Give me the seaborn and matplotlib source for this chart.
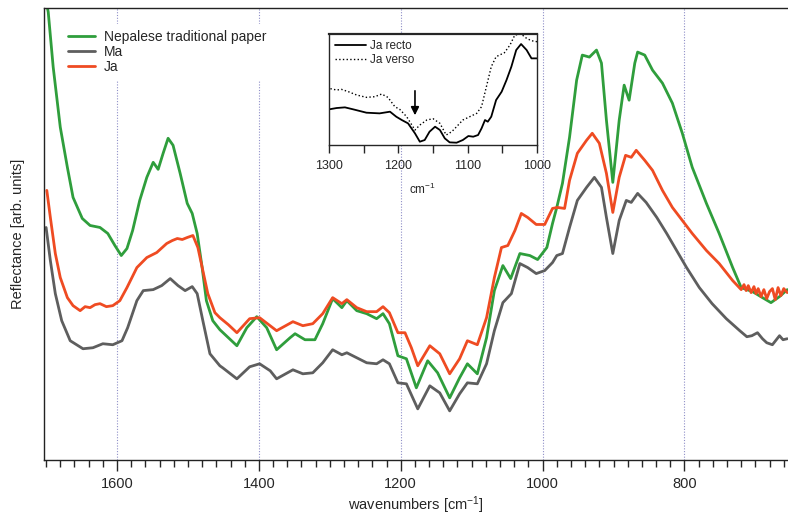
import matplotlib
matplotlib.use("Agg")
import matplotlib.pyplot as plt
from matplotlib.ticker import MultipleLocator
import seaborn as sns

# main spectra (wavenumber [cm-1], reflectance [arb. units])
nep_wn = [1702, 1697, 1690, 1680, 1670, 1662, 1649, 1638, 1624, 1613, 1603, 1594, 1586, 1578,
          1568, 1558, 1549, 1542, 1535, 1528, 1521, 1511, 1501, 1494, 1487, 1480, 1474, 1465,
          1455, 1443, 1431, 1417, 1403, 1389, 1375, 1356, 1349, 1335, 1321, 1310, 1296, 1283,
          1276, 1262, 1248, 1234, 1225, 1216, 1204, 1192, 1178, 1162, 1148, 1131, 1117, 1106,
          1092, 1079, 1068, 1056, 1045, 1032, 1018, 1007, 994, 986, 980, 972, 962, 952, 944,
          934, 924, 917, 910, 901, 892, 885, 878, 870, 866, 856, 845, 831, 817, 803, 789, 769,
          751, 732, 720, 704, 690, 678, 666, 655]
nep_r = [465, 447, 392, 332, 292, 262, 241, 234, 232, 226, 214, 204, 211, 229,
         259, 282, 297, 290, 306, 321, 314, 286, 256, 246, 226, 192, 159, 139,
         130, 122, 114, 132, 143, 132, 110, 122, 126, 120, 120, 136, 161, 152,
         159, 149, 146, 141, 146, 136, 104, 101, 72, 99, 87, 62, 82, 96,
         86, 122, 169, 194, 181, 206, 204, 200, 212, 236, 252, 276, 322, 379, 404,
         402, 409, 396, 339, 277, 339, 374, 359, 396, 407, 404, 389, 376, 356, 326, 292, 256,
         226, 192, 172, 168, 162, 157, 163, 170]

ma_wn = [1700, 1694, 1687, 1678, 1666, 1648, 1634, 1620, 1606, 1593, 1585, 1572, 1563, 1549,
         1537, 1525, 1514, 1504, 1494, 1487, 1479, 1469, 1455, 1451, 1431, 1413, 1399, 1384,
         1375, 1352, 1338, 1324, 1310, 1296, 1283, 1276, 1262, 1248, 1234, 1225, 1216, 1204,
         1192, 1176, 1159, 1145, 1131, 1117, 1106, 1092, 1079, 1068, 1056, 1044, 1032, 1021,
         1009, 997, 986, 980, 972, 962, 951, 938, 927, 917, 910, 901, 892, 882, 875, 866, 854,
         839, 825, 811, 797, 779, 761, 741, 722, 712, 705, 697, 690, 684, 676, 666, 661, 655]
ma_r = [232, 199, 166, 139, 119, 111, 112, 116, 115, 119, 132, 159, 169, 170,
        174, 181, 174, 169, 173, 166, 139, 106, 94, 92, 81, 93, 96, 89,
        81, 90, 86, 87, 97, 110, 105, 107, 102, 97, 96, 100, 96, 77,
        76, 51, 74, 67, 49, 66, 77, 76, 96, 129, 157, 166, 196, 192,
        186, 189, 197, 204, 206, 232, 259, 272, 282, 272, 242, 206, 239, 259, 257, 266, 257,
        242, 226, 209, 192, 172, 156, 141, 129, 123, 124, 127, 121, 117, 115, 124, 120, 121]

ja_wn = [1699, 1694, 1687, 1680, 1670, 1662, 1652, 1645, 1638, 1631, 1624, 1615, 1606, 1596,
         1586, 1572, 1558, 1544, 1530, 1522, 1515, 1508, 1501, 1493, 1486, 1479, 1472, 1462,
         1455, 1443, 1431, 1413, 1399, 1375, 1352, 1338, 1324, 1310, 1296, 1283, 1276, 1262,
         1248, 1234, 1225, 1216, 1204, 1194, 1185, 1176, 1159, 1145, 1131, 1117, 1106, 1092,
         1079, 1068, 1058, 1049, 1039, 1030, 1021, 1009, 997, 986, 979, 969, 962, 951, 938,
         930, 920, 910, 901, 892, 883, 875, 868, 856, 845, 831, 817, 803, 789, 769, 751, 732,
         724, 720, 716, 713, 710, 706, 702, 699, 696, 692, 688, 684, 680, 676, 672, 668, 664,
         660, 655]
ja_r = [269, 242, 206, 182, 162, 154, 149, 153, 152, 155, 156, 153, 154, 159,
        172, 192, 202, 207, 216, 219, 221, 220, 222, 224, 212, 189, 166, 147,
        142, 135, 127, 141, 142, 129, 138, 134, 136, 146, 162, 156, 160, 152,
        148, 148, 153, 147, 127, 127, 112, 94, 114, 106, 86, 101, 119, 115,
        142, 182, 212, 214, 229, 246, 242, 235, 235, 251, 252, 251, 279, 306, 319,
        326, 316, 286, 247, 282, 304, 302, 309, 299, 289, 269, 252, 239, 226, 209, 196, 179,
        173, 170, 175, 169, 174, 167, 173, 166, 171, 163, 170, 161, 168, 171, 160, 172, 164,
        171, 167]

# inset spectra
ins_wn_recto = [1300, 1289, 1277, 1265, 1246, 1227, 1212, 1203, 1195, 1186, 1176, 1169, 1162,
                1155, 1147, 1140, 1133, 1126, 1116, 1107, 1099, 1092, 1085, 1080, 1075, 1071,
                1066, 1059, 1051, 1044, 1037, 1030, 1023, 1015, 1008, 1000]
ins_recto = [107, 111, 113, 107, 97, 95, 100, 85, 75, 65, 35, 10, 15,
             40, 55, 45, 20, 8, 7, 15, 27, 25, 30, 50, 75, 70,
             85, 135, 160, 195, 235, 285, 303, 285, 260, 260]
ins_wn_verso = [1300, 1289, 1282, 1272, 1260, 1246, 1234, 1224, 1215, 1205, 1198, 1188, 1176,
                1169, 1159, 1150, 1140, 1131, 1123, 1116, 1107, 1097, 1087, 1080, 1073, 1066,
                1059, 1051, 1047, 1039, 1032, 1023, 1015, 1008, 1000]
ins_verso = [170, 165, 167, 160, 150, 143, 145, 153, 143, 115, 107, 85, 45,
             60, 75, 79, 65, 30, 40, 55, 75, 85, 95, 115, 175, 235,
             265, 273, 277, 300, 330, 333, 320, 313, 310]

grid_wn = [1600, 1400, 1200, 1000, 800]

sns.set_style("ticks")
plt.rcParams['font.family'] = ['Liberation Sans', 'DejaVu Sans']
plt.rcParams['mathtext.default'] = 'regular'

fig = plt.figure(figsize=(7.88, 5.15), dpi=100)
ax = fig.add_axes([0.0558, 0.1068, 0.9442, 0.8777])

for g in grid_wn:
    ax.axvline(g, color='#8f8fc8', lw=0.8, ls=(0, (1, 1.5)), zorder=0)

sns.lineplot(x=nep_wn, y=nep_r, ax=ax, color='#2f9e3c', lw=2.0, label='Nepalese traditional paper')
sns.lineplot(x=ma_wn, y=ma_r, ax=ax, color='#5e5e5e', lw=2.0, label='Ma')
sns.lineplot(x=ja_wn, y=ja_r, ax=ax, color='#ef4b22', lw=2.0, label='Ja')

ax.set_xlim(1703, 654)
ax.set_ylim(0, 451)
ax.set_yticks([])
ax.xaxis.set_major_locator(MultipleLocator(200))
ax.xaxis.set_minor_locator(MultipleLocator(20))
ax.tick_params(axis='x', which='major', direction='out', length=8, width=1, labelsize=10.5, pad=4)
ax.tick_params(axis='x', which='minor', direction='out', length=5, width=1)
ax.spines['right'].set_visible(False)
for s in ['left', 'top', 'bottom']:
    ax.spines[s].set_linewidth(1.0)
    ax.spines[s].set_color('#222222')
ax.set_xlabel('wavenumbers [cm$^{-1}$]', fontsize=10.5, labelpad=3)
ax.set_ylabel('Reflectance [arb. units]', fontsize=10.5, labelpad=14)

leg = ax.legend(loc='upper left', bbox_to_anchor=(0.015, 0.98), frameon=True, fontsize=10,
                handlelength=2.0, handletextpad=0.6, labelspacing=0.1, borderpad=0.4)
leg.get_frame().set_edgecolor('none')
leg.get_frame().set_facecolor('white')
leg.get_frame().set_alpha(1)

# inset
ins = fig.add_axes([0.4175, 0.7184, 0.264, 0.2155])
ins.set_facecolor('white')
sns.lineplot(x=ins_wn_recto, y=ins_recto, ax=ins, color='black', lw=1.3, label='Ja recto')
sns.lineplot(x=ins_wn_verso, y=ins_verso, ax=ins, color='black', lw=1.0, ls=':', label='Ja verso')
ins.set_xlim(1300, 1000)
ins.set_ylim(0, 333)
ins.set_yticks([])
ins.xaxis.set_major_locator(MultipleLocator(100))
ins.xaxis.set_minor_locator(MultipleLocator(50))
ins.tick_params(axis='x', which='both', direction='out', length=6, width=1, labelsize=9, pad=5)
for s in ins.spines.values():
    s.set_linewidth(1.0)
ins.spines['top'].set_linewidth(1.6)
ins.set_xlabel('cm$^{-1}$', fontsize=8.5, labelpad=5)
ins.xaxis.set_label_coords(0.45, -0.33)
ins.annotate('', xy=(1176, 81), xytext=(1176, 171),
             arrowprops=dict(arrowstyle='-|>', color='black', lw=1.2, mutation_scale=12))
il = ins.legend(loc='upper left', frameon=False, fontsize=8.5, handlelength=2.6,
                handletextpad=0.4, labelspacing=0.2, borderpad=0.3, borderaxespad=0.2)

fig.savefig('out.png', dpi=100)
